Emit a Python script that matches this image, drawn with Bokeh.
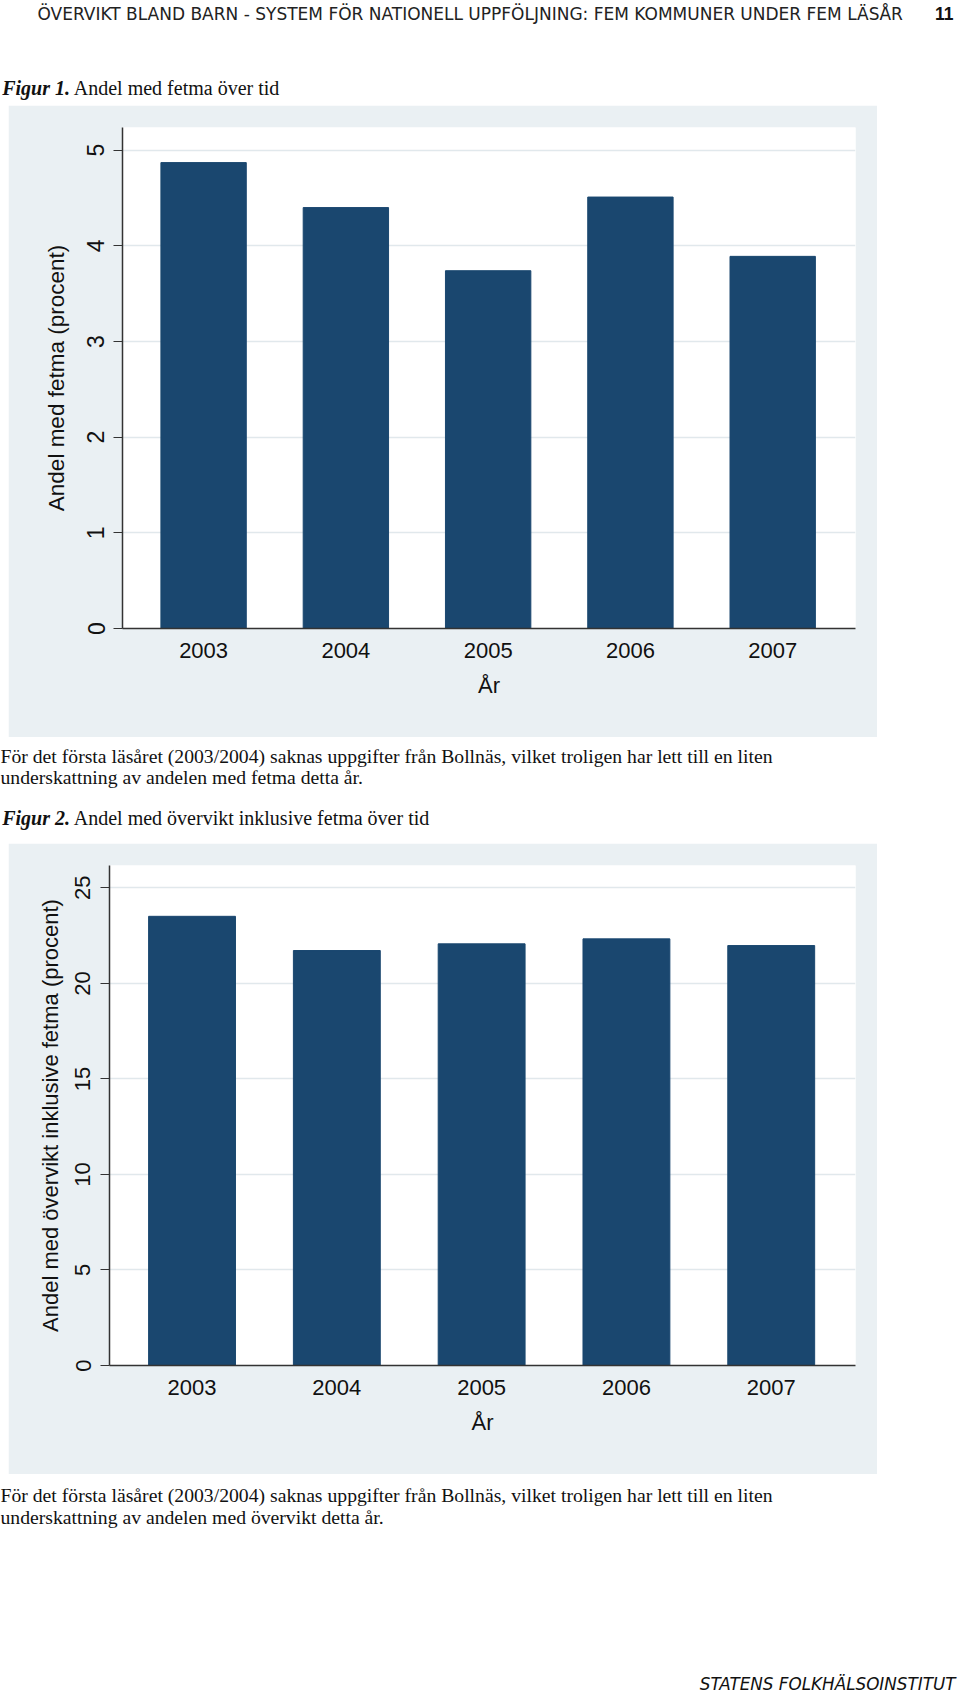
from bokeh.plotting import figure
from bokeh.layouts import column, row
from bokeh.models import Range1d, Label, FixedTicker, Spacer
from bokeh.embed import file_html
from bokeh.resources import INLINE

# ---------------- data ----------------
years = [2003, 2004, 2005, 2006, 2007]
year_labels = ["2003", "2004", "2005", "2006", "2007"]
fetma = [4.87, 4.40, 3.74, 4.51, 3.89]
overvikt = [23.51, 21.72, 22.07, 22.33, 21.98]
fetma_ticks = [0, 1, 2, 3, 4, 5]
overvikt_ticks = [0, 5, 10, 15, 20, 25]

header_text = "ÖVERVIKT BLAND BARN - SYSTEM FÖR NATIONELL UPPFÖLJNING: FEM KOMMUNER UNDER FEM LÄSÅR"
page_no = "11"
fig1_prefix = "Figur 1."
fig1_title = "Andel med fetma över tid"
fig2_prefix = "Figur 2."
fig2_title = "Andel med övervikt inklusive fetma över tid"
caption1 = ["För det första läsåret (2003/2004) saknas uppgifter från Bollnäs, vilket troligen har lett till en liten",
            "underskattning av andelen med fetma detta år."]
caption2 = ["För det första läsåret (2003/2004) saknas uppgifter från Bollnäs, vilket troligen har lett till en liten",
            "underskattning av andelen med övervikt detta år."]
footer_text = "STATENS FOLKHÄLSOINSTITUT"
x_title = "År"
y1_title = "Andel med fetma (procent)"
y2_title = "Andel med övervikt inklusive fetma (procent)"

# ---------------- style ----------------
W = 960
NAVY = "#1A476F"
PANEL = "#EAF0F3"
GRID = "#E1E8EC"
AXIS = "#333333"
SANS = "Liberation Sans"
SERIF = "Liberation Serif"


def text_fig(h):
    p = figure(width=W, height=h, x_range=Range1d(0, W), y_range=Range1d(h, 0),
               toolbar_location=None, output_backend="svg", min_border=0,
               x_axis_location=None, y_axis_location=None, frame_align=False)
    p.grid.visible = False
    p.outline_line_color = None
    p.background_fill_color = "white"
    p.border_fill_color = "white"
    return p


def lab(p, x, y, text, font, size, style="normal", align="left", color="#111111"):
    p.add_layout(Label(x=x, y=y, text=text, text_font=font, text_font_size=size,
                       text_font_style=style, text_align=align, text_baseline="middle",
                       text_color=color))


def bar_chart(values, ticks, ytop, ylabel, height, left, ylab_size, ytick_size,
              ytick_standoff, ytitle_standoff):
    p = figure(width=869, height=height,
               x_range=Range1d(2002.43, 2007.582), y_range=Range1d(0, ytop),
               toolbar_location=None, output_backend="svg", frame_align=False,
               min_border_left=left, min_border_right=22,
               min_border_top=22, min_border_bottom=109)
    p.border_fill_color = PANEL
    p.background_fill_color = "white"
    p.outline_line_color = None
    p.vbar(x=years, top=values, bottom=0, width=0.6,
           fill_color=NAVY, line_color=NAVY, line_width=1)

    p.xgrid.visible = False
    p.ygrid.ticker = FixedTicker(ticks=ticks)
    p.ygrid.grid_line_color = GRID
    p.ygrid.grid_line_width = 1.5

    xa = p.xaxis[0]
    xa.ticker = FixedTicker(ticks=years)
    xa.major_label_overrides = {y: s for y, s in zip(years, year_labels)}
    xa.major_tick_out = 0
    xa.major_tick_in = 0
    xa.minor_tick_line_color = None
    xa.axis_line_color = AXIS
    xa.axis_line_width = 1.5
    xa.major_label_text_font = SANS
    xa.major_label_text_font_size = "22px"
    xa.major_label_text_color = "#111111"
    xa.major_label_standoff = 14
    xa.axis_label = x_title
    xa.axis_label_text_font = SANS
    xa.axis_label_text_font_size = "22px"
    xa.axis_label_text_font_style = "normal"
    xa.axis_label_text_color = "#111111"
    xa.axis_label_standoff = 12

    ya = p.yaxis[0]
    ya.ticker = FixedTicker(ticks=ticks)
    ya.major_tick_out = 9
    ya.major_tick_in = 0
    ya.major_tick_line_color = AXIS
    ya.minor_tick_line_color = None
    ya.axis_line_color = AXIS
    ya.axis_line_width = 1.5
    ya.major_label_orientation = "vertical"
    ya.major_label_text_font = SANS
    ya.major_label_text_font_size = ytick_size
    ya.major_label_text_color = "#111111"
    ya.major_label_standoff = ytick_standoff
    ya.axis_label = ylabel
    ya.axis_label_text_font = SANS
    ya.axis_label_text_font_size = ylab_size
    ya.axis_label_text_font_style = "normal"
    ya.axis_label_text_color = "#111111"
    ya.axis_label_standoff = ytitle_standoff
    return p


# ---------------- header ----------------
head = text_fig(105)
lab(head, 37, 13, header_text, "DejaVu Sans", "17px", color="#222222")
lab(head, 953, 13, page_no, SANS, "17.5px", style="bold", align="right")
lab(head, 1.7, 87.3, fig1_prefix, SERIF, "20px", style="bold italic")
lab(head, 73.3, 87.3, fig1_title, SERIF, "20px")

# ---------------- chart 1 ----------------
c1 = bar_chart(fetma, fetma_ticks, 5.237, y1_title, 632, 114, "22.5px", "23px", 9, 16)

# ---------------- middle text ----------------
mid = text_fig(106)
lab(mid, 0, 18.5, caption1[0], SERIF, "19.7px")
lab(mid, 0, 39.5, caption1[1], SERIF, "19.7px")
lab(mid, 1.7, 80.3, fig2_prefix, SERIF, "20px", style="bold italic")
lab(mid, 73.3, 80.3, fig2_title, SERIF, "20px")

# ---------------- chart 2 ----------------
c2 = bar_chart(overvikt, overvikt_ticks, 26.17, y2_title, 631, 101, "22px", "22px", 10, 10)

# ---------------- bottom text ----------------
bot = text_fig(222)
lab(bot, 0, 20.5, caption2[0], SERIF, "19.7px")
lab(bot, 0, 42, caption2[1], SERIF, "19.7px")
lab(bot, 955, 209, footer_text, "DejaVu Sans", "16.8px", style="italic", align="right")

layout = column(
    head,
    row(Spacer(width=8, height=632), c1, spacing=0),
    mid,
    row(Spacer(width=8, height=631), c2, spacing=0),
    bot,
    spacing=0,
)

with open("out.html", "w") as f:
    f.write(file_html(layout, INLINE))
